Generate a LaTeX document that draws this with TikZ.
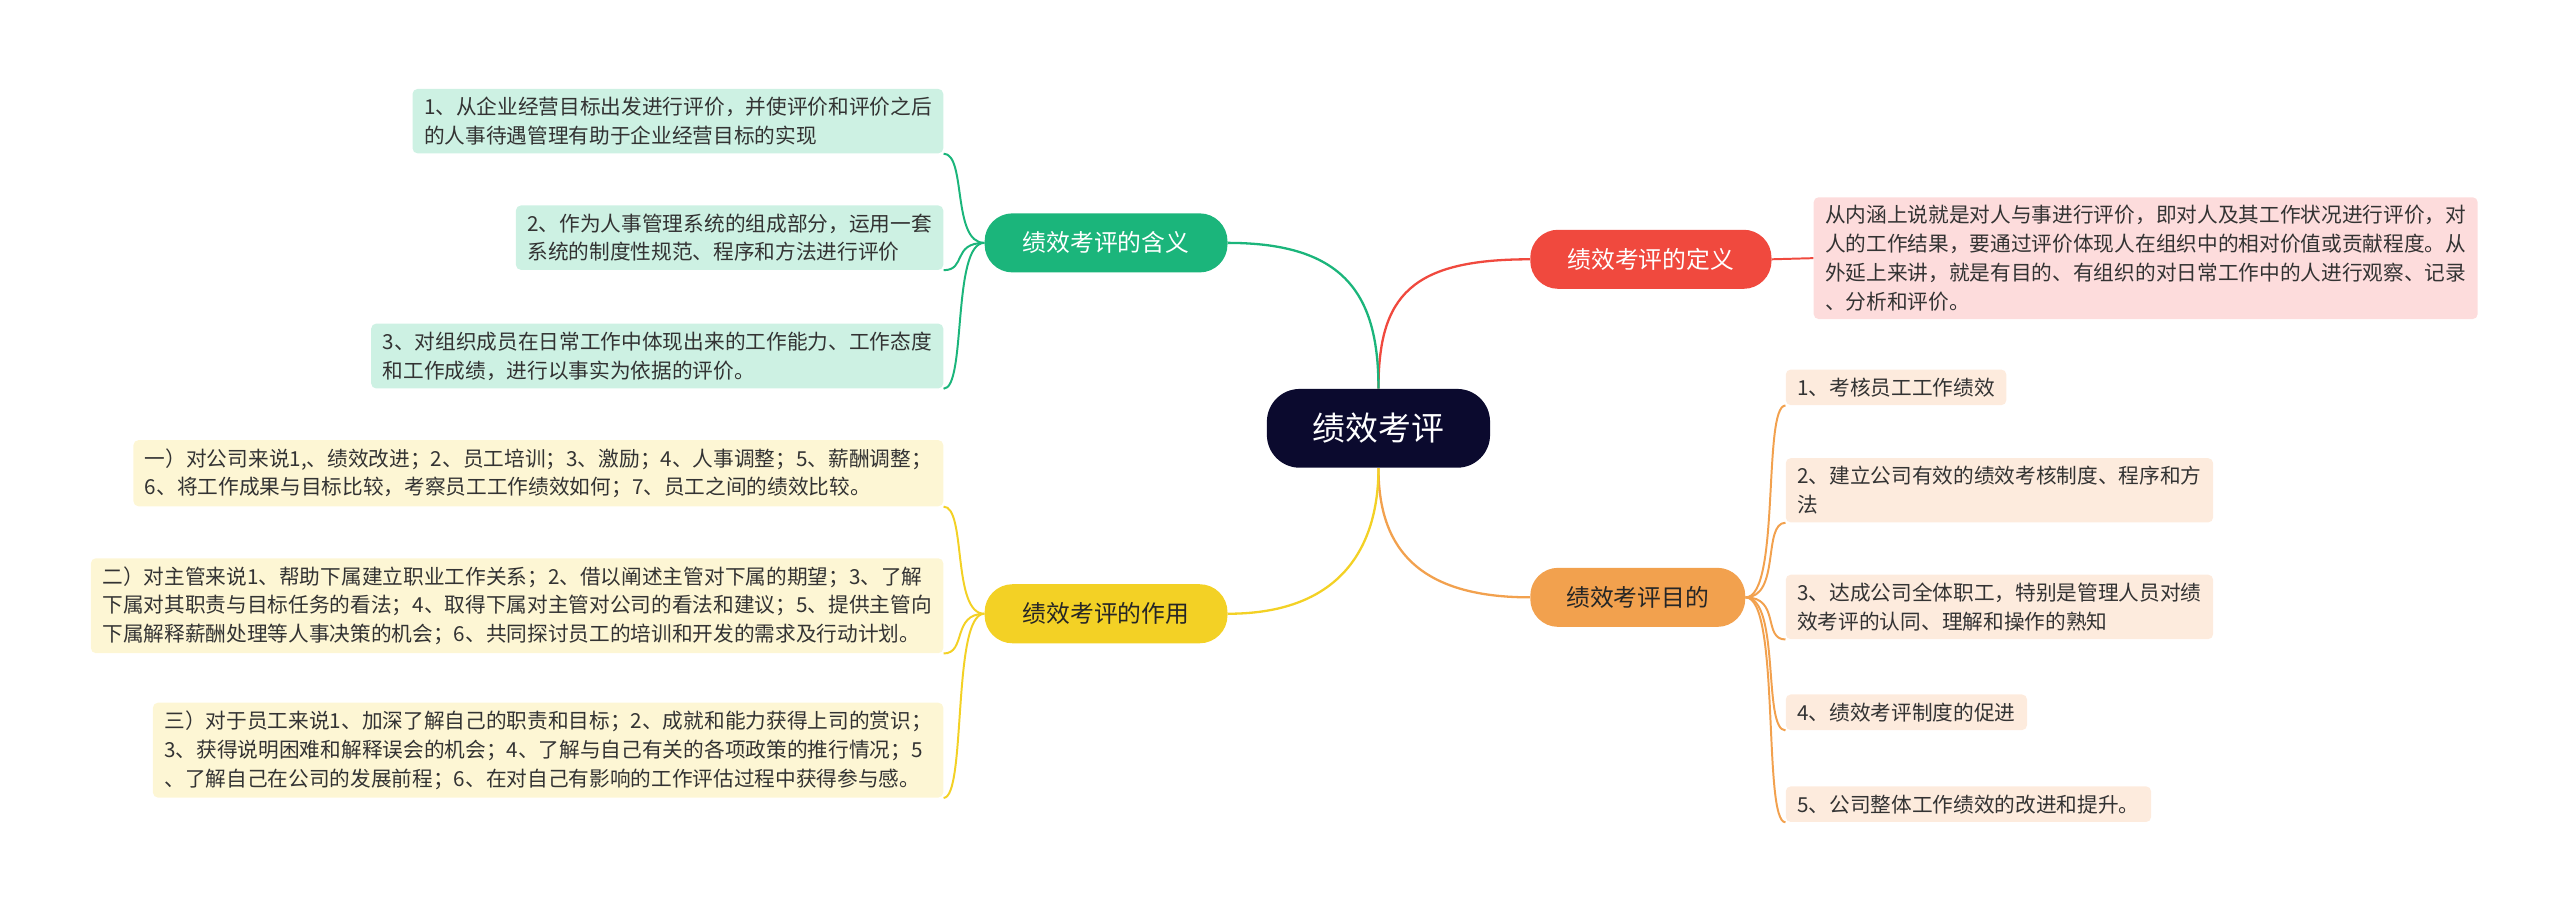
\documentclass[tikz,border=0pt]{standalone}
\usepackage{fontspec}
\setmainfont{Noto Sans CJK SC}
\begin{document}
\begin{tikzpicture}[x=1pt,y=-1pt,
  leaf/.style={rounded corners=3pt,inner xsep=7pt,inner ysep=5pt,align=left,font=\fontsize{12.6}{17.5}\selectfont,text=black!80},
  branch/.style={rounded corners=17pt,minimum height=36pt,inner xsep=16pt,font=\fontsize{14.5}{16}\selectfont},
  con/.style={line width=1.4pt}]
\useasboundingbox (0,0) rectangle (1560,557.6);
\definecolor{navy}{HTML}{0B0A2E}
\definecolor{cred}{HTML}{F0493E}
\definecolor{cpink}{HTML}{FDDCDC}
\definecolor{corg}{HTML}{F2A14E}
\definecolor{cpeach}{HTML}{FDEBDD}
\definecolor{cgrn}{HTML}{1BB57B}
\definecolor{clgrn}{HTML}{CDF1E3}
\definecolor{cyel}{HTML}{F3D125}
\definecolor{clyel}{HTML}{FDF6D4}

\node[rounded corners=20pt,fill=navy,text=white,minimum width=136pt,minimum height=48pt,font=\fontsize{20}{22}\selectfont] (c) at (840,261) {绩效考评};

\node[branch,fill=cred,text=white,minimum width=147pt] (rb) at (1006,158) {绩效考评的定义};
\node[branch,fill=corg,text=black!85,minimum width=131pt] (ob) at (998,364) {绩效考评目的};
\node[branch,fill=cgrn,text=white,minimum width=148pt] (gb) at (674,148) {绩效考评的含义};
\node[branch,fill=cyel,text=black!85,minimum width=148pt] (yb) at (674,374) {绩效考评的作用};

\node[leaf,fill=cpink,anchor=north west] (d) at (1105,120) {从内涵上说就是对人与事进行评价，即对人及其工作状况进行评价，对\\人的工作结果，要通过评价体现人在组织中的相对价值或贡献程度。从\\外延上来讲，就是有目的、有组织的对日常工作中的人进行观察、记录\\、分析和评价。};

\node[leaf,fill=cpeach,anchor=north west] (o1) at (1088,225) {1、考核员工工作绩效};
\node[leaf,fill=cpeach,anchor=north west] (o2) at (1088,279) {2、建立公司有效的绩效考核制度、程序和方\\法};
\node[leaf,fill=cpeach,anchor=north west] (o3) at (1088,350) {3、达成公司全体职工，特别是管理人员对绩\\效考评的认同、理解和操作的熟知};
\node[leaf,fill=cpeach,anchor=north west] (o4) at (1088,423) {4、绩效考评制度的促进};
\node[leaf,fill=cpeach,anchor=north west] (o5) at (1088,479) {5、公司整体工作绩效的改进和提升。};

\node[leaf,fill=clgrn,anchor=north east] (g1) at (575,54) {1、从企业经营目标出发进行评价，并使评价和评价之后\\的人事待遇管理有助于企业经营目标的实现};
\node[leaf,fill=clgrn,anchor=north east] (g2) at (575,125) {2、作为人事管理系统的组成部分，运用一套\\系统的制度性规范、程序和方法进行评价};
\node[leaf,fill=clgrn,anchor=north east] (g3) at (575,197) {3、对组织成员在日常工作中体现出来的工作能力、工作态度\\和工作成绩，进行以事实为依据的评价。};

\node[leaf,fill=clyel,anchor=north east] (y1) at (575,268) {一）对公司来说1,、绩效改进；2、员工培训；3、激励；4、人事调整；5、薪酬调整；\\6、将工作成果与目标比较，考察员工工作绩效如何；7、员工之间的绩效比较。};
\node[leaf,fill=clyel,anchor=north east] (y2) at (575,340) {二）对主管来说1、帮助下属建立职业工作关系；2、借以阐述主管对下属的期望；3、了解\\下属对其职责与目标任务的看法；4、取得下属对主管对公司的看法和建议；5、提供主管向\\下属解释薪酬处理等人事决策的机会；6、共同探讨员工的培训和开发的需求及行动计划。};
\node[leaf,fill=clyel,anchor=north east] (y3) at (575,428) {三）对于员工来说1、加深了解自己的职责和目标；2、成就和能力获得上司的赏识；\\3、获得说明困难和解释误会的机会；4、了解与自己有关的各项政策的推行情况；5\\、了解自己在公司的发展前程；6、在对自己有影响的工作评估过程中获得参与感。};

\draw[con,cred] (c.north) .. controls (840,180) and (860,158) .. (rb.west);
\draw[con,corg] (c.south) .. controls (840,330) and (860,364) .. (ob.west);
\draw[con,cgrn] (c.north) .. controls (840,180) and (820,148) .. (gb.east);
\draw[con,cyel] (c.south) .. controls (840,330) and (820,374) .. (yb.east);

\draw[con,cred,line width=1.2pt] (rb.east) -- (d.west);
\foreach \n in {o1,o2,o3,o4,o5}
  \draw[con,corg,line width=1.2pt] (ob.east) .. controls (1085,364) and ([xshift=-14pt]\n.south west) .. (\n.south west);
\foreach \n in {g1,g2,g3}
  \draw[con,cgrn,line width=1.2pt] (gb.west) .. controls (580,148) and ([xshift=14pt]\n.south east) .. (\n.south east);
\foreach \n in {y1,y2,y3}
  \draw[con,cyel,line width=1.2pt] (yb.west) .. controls (580,374) and ([xshift=14pt]\n.south east) .. (\n.south east);
\end{tikzpicture}
\end{document}
